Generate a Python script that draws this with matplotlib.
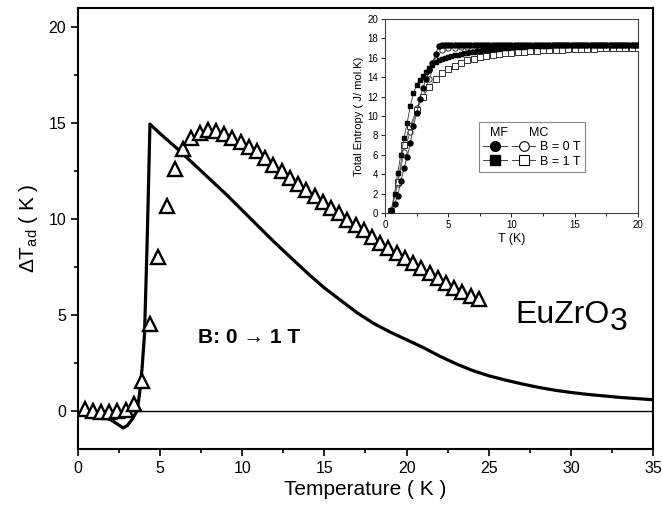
import numpy as np
import matplotlib
matplotlib.use("Agg")
import matplotlib.pyplot as plt
from matplotlib.lines import Line2D
from matplotlib.legend_handler import HandlerTuple
from matplotlib.ticker import MultipleLocator

plt.rcParams['font.family'] = ['Liberation Sans', 'DejaVu Sans']
plt.rcParams['mathtext.fontset'] = 'custom'
plt.rcParams['mathtext.rm'] = 'Liberation Sans'
plt.rcParams['mathtext.it'] = 'Liberation Sans:italic'
plt.rcParams['mathtext.bf'] = 'Liberation Sans:bold'

# main panel: adiabatic temperature change, B: 0 -> 1 T
t_mc = [0.4, 0.9, 1.4, 1.9, 2.4, 2.9, 3.4, 3.9, 4.4, 4.9, 5.4, 5.9, 6.4, 6.9, 7.4,
        7.9, 8.4, 8.9, 9.4, 9.9, 10.4, 10.9, 11.4, 11.9, 12.4, 12.9, 13.4, 13.9,
        14.4, 14.9, 15.4, 15.9, 16.4, 16.9, 17.4, 17.9, 18.4, 18.9, 19.4, 19.9,
        20.4, 20.9, 21.4, 21.9, 22.4, 22.9, 23.4, 23.9, 24.4]
dt_mc = [0.1, 0.0, -0.05, -0.05, 0.0, 0.05, 0.35, 1.55, 4.5, 8.0, 10.7, 12.6, 13.65,
         14.2, 14.5, 14.65, 14.6, 14.45, 14.25, 14.0, 13.78, 13.52, 13.17, 12.82,
         12.52, 12.15, 11.85, 11.5, 11.2, 10.9, 10.56, 10.3, 9.95, 9.68, 9.42, 9.08,
         8.77, 8.5, 8.22, 7.95, 7.68, 7.42, 7.16, 6.9, 6.65, 6.42, 6.2, 6.0, 5.85]

t_mf = [0.0, 0.5, 1.0, 1.5, 2.0, 2.4, 2.75, 3.0, 3.3, 3.6, 3.75, 3.9, 4.05, 4.2,
        4.3, 4.38, 5.0, 6.0, 7.0, 8.0, 9.0, 10.0, 11.0, 12.0, 13.0, 14.0, 15.0,
        16.0, 17.0, 18.0, 19.0, 20.0, 21.0, 22.0, 23.0, 24.0, 25.0, 26.0, 27.0,
        28.0, 29.0, 30.0, 31.0, 32.0, 33.0, 34.0, 35.0]
dt_mf = [-0.2, -0.22, -0.25, -0.32, -0.48, -0.7, -0.9, -0.78, -0.45, 0.0, 0.9, 2.2,
         4.0, 8.5, 12.0, 14.95, 14.45, 13.7, 12.9, 12.1, 11.3, 10.45, 9.6, 8.75,
         7.95, 7.15, 6.4, 5.75, 5.1, 4.55, 4.1, 3.7, 3.3, 2.85, 2.45, 2.1, 1.82,
         1.6, 1.4, 1.22, 1.07, 0.95, 0.85, 0.77, 0.69, 0.63, 0.57]

# inset: total entropy
t_fine = [0.5, 0.75, 1.0, 1.25, 1.5, 1.75, 2.0, 2.25, 2.5, 2.75, 3.0, 3.25, 3.5, 3.75,
          4.0, 4.25, 4.5, 4.75, 5.0, 5.25, 5.5, 5.75, 6.0, 6.25, 6.5, 6.75, 7.0,
          7.25, 7.5, 7.75, 8.0, 8.25, 8.5, 8.75, 9.0, 9.25, 9.5, 9.75, 10.0, 10.25,
          10.5, 10.75, 11.0, 11.25, 11.5, 11.75, 12.0, 12.25, 12.5, 12.75, 13.0,
          13.25, 13.5, 13.75, 14.0, 14.25, 14.5, 14.75, 15.0, 15.25, 15.5, 15.75,
          16.0, 16.25, 16.5, 16.75, 17.0, 17.25, 17.5, 17.75, 18.0, 18.25, 18.5,
          18.75, 19.0, 19.25, 19.5, 19.75, 20.0]
s_mf0 = [0.2, 0.9, 1.8, 3.3, 4.6, 5.8, 7.2, 9.0, 10.3, 11.8, 12.9, 13.8, 14.7, 15.5,
         16.4, 17.2, 17.33, 17.34, 17.34, 17.34, 17.35, 17.35, 17.35, 17.35, 17.35,
         17.35, 17.35, 17.35, 17.35, 17.35, 17.35, 17.35, 17.35, 17.35, 17.35,
         17.35, 17.35, 17.35, 17.35, 17.35, 17.35, 17.35, 17.35, 17.35, 17.35,
         17.35, 17.35, 17.35, 17.35, 17.35, 17.35, 17.35, 17.35, 17.35, 17.35,
         17.35, 17.35, 17.35, 17.35, 17.35, 17.35, 17.35, 17.35, 17.35, 17.35,
         17.35, 17.35, 17.35, 17.35, 17.35, 17.35, 17.35, 17.35, 17.35, 17.35,
         17.35, 17.35, 17.35, 17.35]
s_mf1 = [0.3, 2.0, 4.1, 6.0, 7.7, 9.3, 11.0, 12.4, 13.2, 13.75, 14.15, 14.55, 14.9,
         15.25, 15.55, 15.75, 15.9, 16.0, 16.08, 16.17, 16.25, 16.33, 16.4, 16.47,
         16.53, 16.59, 16.65, 16.69, 16.73, 16.77, 16.8, 16.84, 16.88, 16.91, 16.95,
         16.98, 17.01, 17.04, 17.08, 17.1, 17.12, 17.14, 17.16, 17.18, 17.2, 17.21,
         17.22, 17.23, 17.24, 17.25, 17.26, 17.27, 17.27, 17.28, 17.28, 17.29,
         17.29, 17.3, 17.3, 17.3, 17.31, 17.31, 17.31, 17.32, 17.32, 17.32, 17.32,
         17.33, 17.33, 17.33, 17.33, 17.33, 17.34, 17.34, 17.34, 17.34, 17.35,
         17.35, 17.35]
t_coarse = [0.5, 1.0, 1.5, 2.0, 2.5, 3.0, 3.5, 4.0, 4.5, 5.0, 5.5, 6.0, 6.5, 7.0, 7.5,
            8.0, 8.5, 9.0, 9.5, 10.0, 10.5, 11.0, 11.5, 12.0, 12.5, 13.0, 13.5,
            14.0, 14.5, 15.0, 15.5, 16.0, 16.5, 17.0, 17.5, 18.0, 18.5, 19.0, 19.5,
            20.0]
s_mc0 = [0.3, 3.0, 6.3, 8.4, 10.8, 12.0, 13.8, 15.8, 16.8, 17.0, 17.05, 17.08, 17.1,
         17.12, 17.13, 17.14, 17.15, 17.16, 17.16, 17.17, 17.17, 17.18, 17.18, 17.18,
         17.19, 17.19, 17.19, 17.2, 17.2, 17.2, 17.2, 17.21, 17.21, 17.21, 17.21,
         17.22, 17.22, 17.22, 17.22, 17.22]
s_mc1 = [0.2, 3.2, 7.0, 9.0, 10.6, 12.0, 13.0, 13.8, 14.4, 14.85, 15.2, 15.5, 15.75,
         15.92, 16.06, 16.18, 16.28, 16.37, 16.45, 16.52, 16.58, 16.63, 16.68, 16.72,
         16.76, 16.79, 16.82, 16.85, 16.87, 16.89, 16.91, 16.93, 16.95, 16.96, 16.97,
         16.98, 16.99, 17.0, 17.01, 17.02]

fig = plt.figure(figsize=(6.62, 5.07), dpi=100)
ax = fig.add_axes([0.1178, 0.1144, 0.8686, 0.8696])

ax.axhline(0, color='k', lw=1.0, zorder=1)
ax.plot(t_mf, dt_mf, color='k', lw=2.3, zorder=2)
ax.plot(t_mc, dt_mc, ls='none', marker='^', ms=10.5, mfc='white', mec='k',
        mew=1.7, zorder=3)

ax.set_xlim(0, 35)
ax.set_ylim(-2, 21)
ax.xaxis.set_major_locator(MultipleLocator(5))
ax.xaxis.set_minor_locator(MultipleLocator(2.5))
ax.yaxis.set_major_locator(MultipleLocator(5))
ax.yaxis.set_minor_locator(MultipleLocator(2.5))
ax.tick_params(which='both', direction='out', width=1.2, labelsize=11.5,
               top=False, right=False)
ax.tick_params(which='major', length=5)
ax.tick_params(which='minor', length=3)
for sp in ax.spines.values():
    sp.set_linewidth(1.5)

ax.set_xlabel('Temperature ( K )', fontsize=15, labelpad=3)
ax.set_ylabel(r'$\Delta\mathrm{T}_{\mathrm{ad}}$ ( K )', fontsize=15, labelpad=6)

ax.text(7.3, 3.8, 'B: 0 \u2192 1 T', fontsize=15, fontweight='bold', va='center')
eu = ax.text(26.6, 5.0, 'EuZrO', fontsize=23, va='center')
ax.annotate('3', xy=(1, 0), xycoords=eu, xytext=(0.5, -5),
            textcoords='offset points', fontsize=23, va='bottom')

# inset
ins = fig.add_axes([0.5816, 0.5799, 0.3821, 0.3826])
ins.plot(t_fine, s_mf0, color='#333333', lw=0.6, marker='o', ms=3.6,
         mfc='k', mec='k', zorder=4)
ins.plot(t_coarse, s_mc0, color='#555555', lw=0.6, marker='o', ms=3.8,
         mfc='white', mec='#333333', mew=0.7, zorder=3)
ins.plot(t_fine, s_mf1, color='#333333', lw=0.6, marker='s', ms=3.4,
         mfc='k', mec='k', zorder=4)
ins.plot(t_coarse, s_mc1, color='#555555', lw=0.6, marker='s', ms=3.8,
         mfc='white', mec='#333333', mew=0.7, zorder=3)

ins.set_xlim(0, 20)
ins.set_ylim(0, 20)
ins.xaxis.set_major_locator(MultipleLocator(5))
ins.xaxis.set_minor_locator(MultipleLocator(2.5))
ins.yaxis.set_major_locator(MultipleLocator(2))
ins.tick_params(which='both', direction='out', width=0.6, labelsize=7,
                top=False, right=False, pad=2)
ins.tick_params(which='major', length=3)
ins.tick_params(which='minor', length=2)
for sp in ins.spines.values():
    sp.set_linewidth(0.8)
    sp.set_color('#444444')
ins.set_xlabel('T (K)', fontsize=9, labelpad=2)
ins.set_ylabel('Total Entropy ( J/ mol.K)', fontsize=8, labelpad=2)

h_mf0 = Line2D([], [], color='#444444', lw=0.7, marker='o', ms=7, mfc='k', mec='k')
h_mc0 = Line2D([], [], color='#444444', lw=0.7, marker='o', ms=7, mfc='white', mec='k', mew=0.8)
h_mf1 = Line2D([], [], color='#444444', lw=0.7, marker='s', ms=6.5, mfc='k', mec='k')
h_mc1 = Line2D([], [], color='#444444', lw=0.7, marker='s', ms=6.5, mfc='white', mec='k', mew=0.8)
leg = ins.legend([(h_mf0, h_mc0), (h_mf1, h_mc1)], ['B = 0 T', 'B = 1 T'],
                 handler_map={tuple: HandlerTuple(ndivide=None, pad=0.4)},
                 handlelength=4.2, handletextpad=0.4, fontsize=9,
                 title='  MF      MC', title_fontsize=9, alignment='left',
                 loc='upper left', bbox_to_anchor=(0.345, 0.5),
                 fancybox=False, framealpha=1, edgecolor='#888888',
                 borderpad=0.35, labelspacing=0.2)
leg.get_frame().set_linewidth(0.8)

fig.savefig('out.png', dpi=100)
